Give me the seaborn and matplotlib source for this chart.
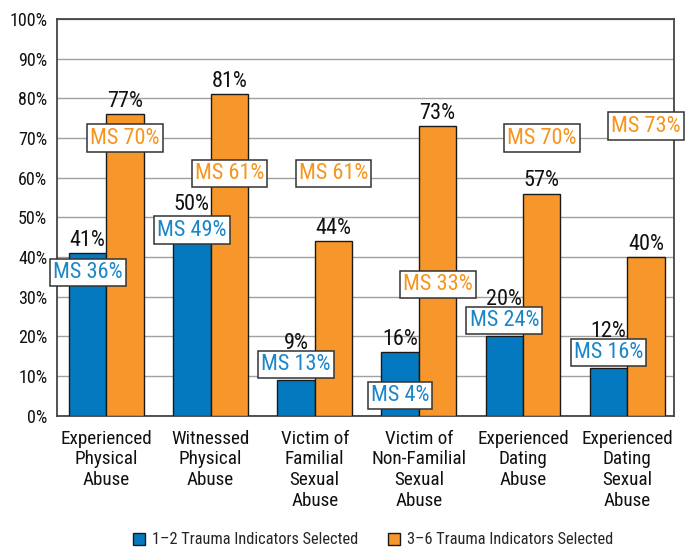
import matplotlib
matplotlib.use("Agg")
import matplotlib.pyplot as plt
from matplotlib import font_manager as fm
import seaborn as sns
import pandas as pd
from matplotlib.patches import Patch

categories = ["Experienced\nPhysical\nAbuse", "Witnessed\nPhysical\nAbuse",
              "Victim of\nFamilial\nSexual\nAbuse", "Victim of\nNon-Familial\nSexual\nAbuse",
              "Experienced\nDating\nAbuse", "Experienced\nDating\nSexual\nAbuse"]
series = ["1\u20132 Trauma Indicators Selected", "3\u20136 Trauma Indicators Selected"]
low_values = [41, 50, 9, 16, 20, 12]
high_values = [76, 81, 44, 73, 56, 40]
low_labels = ["41%", "50%", "9%", "16%", "20%", "12%"]
high_labels = ["77%", "81%", "44%", "73%", "57%", "40%"]
ms_low = [36, 49, 13, 4, 24, 16]
ms_high = [70, 61, 61, 33, 70, 73]
yticks = [0, 10, 20, 30, 40, 50, 60, 70, 80, 90, 100]

BLUE = "#0579c0"
ORANGE = "#f7962b"
BLUE_T = "#1a86c9"
ORANGE_T = "#f7941d"

sns.set_theme(style="white")

entries = fm.fontManager.ttflist
names = {e.name for e in entries}
chosen = None
for cand in ["Roboto Condensed", "Liberation Sans Narrow", "Open Sans Condensed",
             "Noto Sans Condensed", "Arial Narrow"]:
    if cand in names:
        chosen = cand
        break
scale = 1.0
if chosen is None:
    chosen = "Roboto"
    scale = 0.88
plt.rcParams["font.family"] = [chosen, "DejaVu Sans"]

df = pd.DataFrame({
    "cat": categories * 2,
    "series": [series[0]] * 6 + [series[1]] * 6,
    "value": low_values + high_values,
})

fig = plt.figure(figsize=(6.91, 5.48), dpi=100)
ax = fig.add_axes([57 / 691, 1 - 415.7 / 548, (674 - 57) / 691, (415.7 - 19) / 548])

sns.barplot(data=df, x="cat", y="value", hue="series", order=categories,
            hue_order=series, palette=[BLUE, ORANGE], saturation=1, width=0.72,
            edgecolor="#1a1a1a", linewidth=1.0, ax=ax, legend=False, zorder=3)

ax.set_ylim(0, 100)
ax.set_xlim(-0.475, 5.45)
ax.set_yticks(yticks)
ax.set_yticklabels([f"{t}%" for t in yticks], fontsize=13 * scale, color="#111111")
ax.tick_params(axis="y", length=0, pad=7)
ax.tick_params(axis="x", length=0, pad=10, labelsize=13.8 * scale, colors="#111111")
for lbl in ax.get_xticklabels():
    lbl.set_linespacing(1.2)
ax.set_xlabel("")
ax.set_ylabel("")
ax.yaxis.grid(True, color="#a0a0a0", linewidth=1.0, zorder=0)
ax.set_axisbelow(True)
for s in ax.spines.values():
    s.set_color("#444444")
    s.set_linewidth(1.3)

bw = 0.36
half_box = 3.2
label_h = 5.5
pairs = [(low_values, low_labels, ms_low, -bw / 2, BLUE_T),
         (high_values, high_labels, ms_high, bw / 2, ORANGE_T)]
ms_nudge = {(0, 1): -2.2, (0, 3): 1.0}
for si, (vals, labs, ms, off, tcol) in enumerate(pairs):
    for i in range(len(categories)):
        x = i + off
        msy = ms[i] + ms_nudge.get((si, i), 0)
        box_top = msy + half_box
        box_bot = msy - half_box
        base = vals[i]
        if box_top > base and box_bot < base + label_h:
            base = box_top - 1.2
        ax.annotate(labs[i], (x, base), xytext=(0, 1.5), textcoords="offset points",
                    ha="center", va="bottom", fontsize=16 * scale, color="#111111", zorder=6)
        ax.text(x, msy, f"MS {ms[i]}%", ha="center", va="center", fontsize=16 * scale,
                color=tcol, zorder=7,
                bbox=dict(boxstyle="square,pad=0.14", facecolor="white",
                          edgecolor="#333333", linewidth=1.1))

handles = [Patch(facecolor=BLUE, edgecolor="#1a1a1a", linewidth=1.0),
           Patch(facecolor=ORANGE, edgecolor="#1a1a1a", linewidth=1.0)]
fig.legend(handles, series, loc="center", bbox_to_anchor=(373 / 691, 1 - 540 / 548),
           ncol=2, frameon=False, fontsize=11.8 * scale, handlelength=0.75, handleheight=0.75,
           handletextpad=0.4, columnspacing=1.8, borderaxespad=0)

fig.savefig("out.png", dpi=100)
